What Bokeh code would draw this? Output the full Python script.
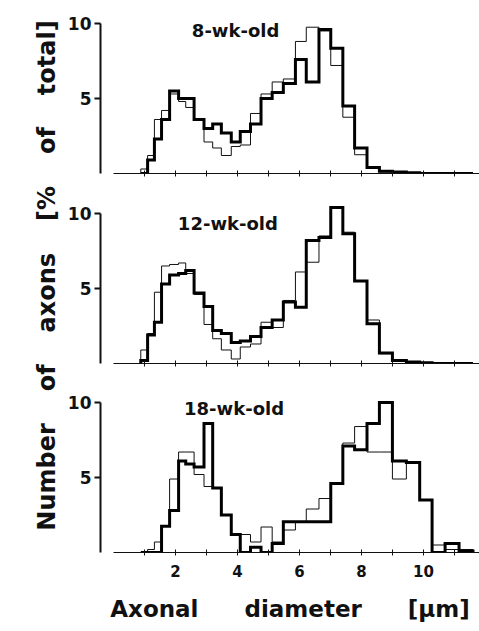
import math
from bokeh.plotting import figure
from bokeh.layouts import row, column
from bokeh.models import Range1d, FixedTicker
from bokeh.core.properties import value
from bokeh.embed import file_html
from bokeh.resources import INLINE

# ---- data ----
bin_edges = [0.88, 1.1, 1.32, 1.55, 1.81, 2.1, 2.33, 2.6, 2.92, 3.2, 3.48, 3.8, 4.09,
             4.42, 4.76, 5.12, 5.48, 5.87, 6.22, 6.63, 7.01, 7.40, 7.78, 8.18, 8.58,
             9.0, 9.45, 9.88, 10.28, 10.7, 11.15, 11.6]

thick_8wk = [0, 0.9, 2.3, 3.6, 5.5, 5.0, 5.0, 3.6, 3.0, 3.3, 2.7, 2.1, 2.8, 3.3, 5.0, 5.4,
             6.0, 7.6, 6.1, 9.6, 8.35, 4.5, 1.7, 0.4, 0.15, 0.1, 0.05, 0, 0, 0, 0]
thin_8wk = [0.3, 1.2, 3.6, 4.2, 5.3, 4.8, 4.4, 3.6, 2.1, 1.7, 1.2, 1.8, 1.9, 4.0, 5.3, 6.1,
            6.3, 8.8, 9.75, 9.5, 7.2, 3.75, 1.25, 0.4, 0.1, 0.05, 0, 0, 0, 0, 0]

thick_12wk = [0.2, 1.9, 2.75, 5.3, 5.9, 6.0, 6.2, 4.7, 3.8, 2.2, 2.0, 1.4, 1.5, 1.8, 2.4, 2.9,
              4.1, 3.75, 8.2, 8.4, 10.4, 8.65, 5.5, 2.65, 0.7, 0.2, 0.1, 0.05, 0, 0, 0]
thin_12wk = [0.9, 2.0, 4.75, 6.5, 6.6, 6.7, 6.0, 4.6, 2.6, 1.65, 0.9, 0.3, 1.1, 1.3, 2.75, 2.4,
             4.2, 6.1, 6.75, 8.5, 10.4, 8.75, 5.5, 2.9, 0.65, 0.15, 0.05, 0, 0, 0, 0]

thick_18wk = [0, 0, 0, 1.75, 2.8, 6.1, 5.9, 5.7, 8.6, 4.3, 2.5, 1.2, 0, 0.35, 0, 0.6,
              2.05, 2.05, 2.05, 2.05, 4.6, 7.1, 6.85, 8.6, 10.0, 6.1, 6.0, 3.5, 0, 0.6, 0.1]
thin_18wk = [0, 0.2, 0.7, 1.75, 4.9, 6.7, 6.7, 5.2, 4.4, 4.3, 2.5, 1.2, 1.2, 0.7, 1.7, 0.7,
             1.5, 2.05, 2.9, 3.6, 4.6, 7.3, 8.4, 6.7, 6.7, 4.9, 6.0, 3.5, 0.5, 0.2, 0.2]

panel_titles = ["8-wk-old", "12-wk-old", "18-wk-old"]
title_pos = [(3.94, 9.5), (3.69, 9.3), (3.89, 9.6)]

x_label_ticks = [2, 4, 6, 8, 10]
x_other_ticks = [1, 3, 5, 7, 9, 11]
x_all_ticks = [1, 2, 3, 4, 5, 6, 7, 8, 9, 10, 11]
y_ticks = [5, 10]

GAP = "\u2003\u2004"
x_title = "Axonal\u2003\u2003diameter\u2003\u2003[\u00b5m]"
y_title = GAP.join(["Number", "of", "axons", "[%", "of", "total]"])

FONT = "DejaVu Sans"
INK = "#111111"


def step_xy(edges, vals):
    xs = [edges[0]]
    ys = [0]
    for i, v in enumerate(vals):
        xs += [edges[i], edges[i + 1]]
        ys += [v, v]
    xs.append(edges[-1])
    ys.append(0)
    return xs, ys


x_range = Range1d(-0.42, 11.81)


def make_panel(thick, thin, title, tpos, height, bottom, y_end, show_labels):
    p = figure(width=419, height=height, x_range=x_range, y_range=Range1d(0, y_end),
               toolbar_location=None, output_backend="svg",
               min_border_left=40, min_border_right=0, min_border_top=0,
               min_border_bottom=bottom)
    p.grid.visible = False
    p.outline_line_color = None
    p.background_fill_color = "white"
    p.border_fill_color = "white"

    xs, ys = step_xy(bin_edges, thin)
    p.line(xs, ys, line_color=INK, line_width=1, line_join="miter")
    xs, ys = step_xy(bin_edges, thick)
    p.line(xs, ys, line_color="black", line_width=3, line_join="miter")

    p.text(x=[tpos[0]], y=[tpos[1]], text=[title], text_font=value(FONT),
           text_font_style="bold", text_font_size="18px", text_align="center",
           text_baseline="middle", text_color=INK)

    ya = p.yaxis[0]
    ya.ticker = FixedTicker(ticks=y_ticks)
    ya.bounds = (0, 10)
    ya.axis_line_width = 2
    ya.axis_line_color = INK
    ya.major_tick_line_width = 2
    ya.major_tick_line_color = INK
    ya.major_tick_out = 6
    ya.major_tick_in = 0
    ya.minor_tick_line_color = None
    ya.major_label_text_font = FONT
    ya.major_label_text_font_style = "bold"
    ya.major_label_text_font_size = "17px"
    ya.major_label_text_color = INK
    ya.major_label_standoff = 3

    xa = p.xaxis[0]
    if show_labels:
        xa.ticker = FixedTicker(ticks=x_label_ticks, minor_ticks=x_other_ticks)
    else:
        xa.ticker = FixedTicker(ticks=[], minor_ticks=x_all_ticks)
    xa.bounds = (0, 11.81)
    xa.axis_line_width = 1
    xa.axis_line_color = INK
    xa.major_tick_in = 3
    xa.major_tick_out = 3
    xa.minor_tick_in = 3
    xa.minor_tick_out = 3
    xa.major_tick_line_color = INK
    xa.minor_tick_line_color = INK
    xa.major_label_text_font = FONT
    xa.major_label_text_font_style = "bold"
    xa.major_label_text_font_size = "15px"
    xa.major_label_text_color = INK
    xa.major_label_standoff = 9
    if show_labels:
        xa.axis_label = x_title
        xa.axis_label_text_font = FONT
        xa.axis_label_text_font_style = "bold"
        xa.axis_label_text_font_size = "23px"
        xa.axis_label_text_color = INK
        xa.axis_label_standoff = 16
    return p


p1 = make_panel(thick_8wk, thin_8wk, panel_titles[0], title_pos[0], 190, 17, 11.53, False)
p2 = make_panel(thick_12wk, thin_12wk, panel_titles[1], title_pos[1], 190, 17, 11.53, False)
p3 = make_panel(thick_18wk, thin_18wk, panel_titles[2], title_pos[2], 251, 79, 11.47, True)

p0 = figure(width=60, height=631, x_range=Range1d(0, 60), y_range=Range1d(0, 631),
            toolbar_location=None, output_backend="svg", x_axis_type=None,
            y_axis_type=None, min_border=0)
p0.grid.visible = False
p0.outline_line_color = None
p0.text(x=[46], y=[356], text=[y_title], angle=math.pi / 2, text_font=value(FONT),
        text_font_style="bold", text_font_size="24px", text_align="center",
        text_baseline="alphabetic", text_color=INK)

layout = row(p0, column(p1, p2, p3, spacing=0), spacing=0)

open("out.html", "w").write(file_html(layout, INLINE))
